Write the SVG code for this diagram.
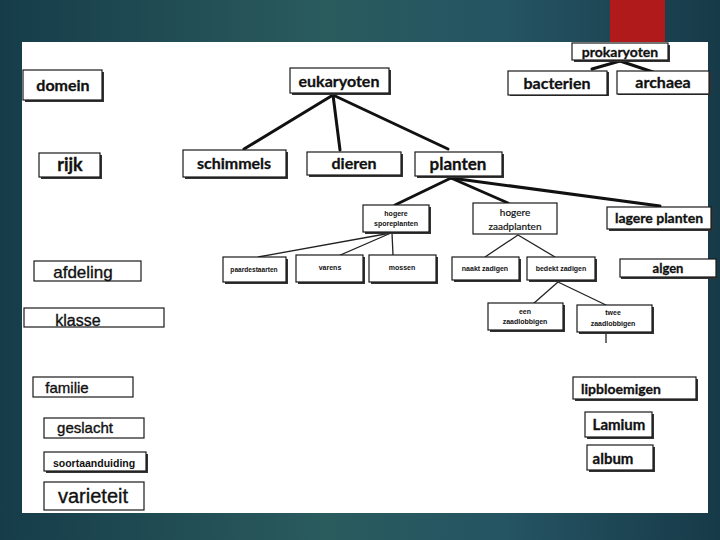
<svg xmlns="http://www.w3.org/2000/svg" width="720" height="540" viewBox="0 0 720 540">
<defs>
<linearGradient id="bg" x1="0" y1="0" x2="1" y2="0">
<stop offset="0" stop-color="#163c4a"/>
<stop offset="0.45" stop-color="#2a5b5d"/>
<stop offset="0.7" stop-color="#255463"/>
<stop offset="1" stop-color="#173a48"/>
</linearGradient>
<style>
.b{fill:#fff;stroke:#1a1a1a;stroke-width:1.2}
.s{fill:#333}
.c{font-family:Lato,"Open Sans",sans-serif;font-weight:bold;fill:#111;stroke:#111;stroke-width:0.3;text-anchor:middle}
.a{font-family:"Liberation Sans",Arial,sans-serif;fill:#111;stroke:#111;stroke-width:0.35;text-anchor:middle}
.ab{font-family:"Liberation Sans",Arial,sans-serif;font-weight:bold;fill:#111;text-anchor:middle}
.l{stroke:#111;stroke-width:3;fill:none;stroke-linecap:round}
.t{stroke:#222;stroke-width:1.3;fill:none}
</style>
</defs>
<rect width="720" height="540" fill="url(#bg)"/>
<rect x="610" y="0" width="55" height="42" fill="#b01a1a"/>
<rect x="22" y="42" width="686" height="471" fill="#fff"/>

<g id="connectors">
<line class="l" x1="620" y1="61" x2="592" y2="69"/>
<line class="l" x1="620" y1="61" x2="653" y2="72"/>
<line class="l" x1="333" y1="95" x2="244" y2="149"/>
<line class="l" x1="333" y1="95" x2="340" y2="150"/>
<line class="l" x1="333" y1="95" x2="448" y2="149"/>
<line class="l" x1="451" y1="178" x2="395" y2="205"/>
<line class="l" x1="451" y1="178" x2="508" y2="203"/>
<line class="l" x1="451" y1="178" x2="660" y2="206"/>
<line class="t" x1="391" y1="233" x2="258" y2="257"/>
<line class="t" x1="391" y1="233" x2="338" y2="256"/>
<line class="t" x1="392" y1="233" x2="393" y2="255"/>
<line class="t" x1="518" y1="235" x2="485" y2="257"/>
<line class="t" x1="518" y1="235" x2="555" y2="257"/>
<line class="t" x1="558" y1="282" x2="533" y2="304"/>
<line class="t" x1="558" y1="282" x2="608" y2="306"/>
<line class="t" x1="606" y1="333" x2="606" y2="343"/>
</g>

<g id="prokaryoten"><rect class="s" x="574" y="45" width="96" height="17"/><rect class="b" x="572" y="43" width="96" height="17"/><text class="c" x="620" y="57" font-size="14">prokaryoten</text></g>
<g id="bacterien"><rect class="s" x="510" y="72" width="99" height="24"/><rect class="b" x="508" y="71" width="99" height="24"/><text class="c" x="557" y="89" font-size="16">bacterien</text></g>
<g id="archaea"><rect class="s" x="618" y="72" width="93" height="23"/><rect class="b" x="617" y="71" width="92" height="23"/><text class="c" x="663" y="88" font-size="16">archaea</text></g>
<g id="eukaryoten"><rect class="s" x="292" y="70" width="99" height="25"/><rect class="b" x="290" y="68" width="99" height="25"/><text class="c" x="339" y="87" font-size="16">eukaryoten</text></g>
<g id="domein"><rect class="s" x="25" y="72" width="79" height="30"/><rect class="b" x="23" y="70" width="79" height="30"/><text class="c" x="63" y="91" font-size="16">domein</text></g>
<g id="rijk"><rect class="s" x="41" y="155" width="61" height="24"/><rect class="b" x="39" y="153" width="61" height="24"/><text class="c" x="70" y="171" font-size="18">rijk</text></g>
<g id="schimmels"><rect class="s" x="185" y="152" width="103" height="27"/><rect class="b" x="183" y="150" width="103" height="27"/><text class="c" x="234" y="169" font-size="16">schimmels</text></g>
<g id="dieren"><rect class="s" x="309" y="154" width="94" height="23"/><rect class="b" x="307" y="152" width="94" height="23"/><text class="c" x="354" y="169" font-size="16">dieren</text></g>
<g id="planten"><rect class="s" x="417" y="154" width="87" height="24"/><rect class="b" x="415" y="152" width="87" height="24"/><text class="c" x="458" y="170" font-size="17">planten</text></g>

<g id="hogere-sporeplanten"><rect class="s" x="365" y="207" width="66" height="27"/><rect class="b" x="363" y="205" width="66" height="27"/><text class="ab" x="396" y="216" font-size="7">hogere</text><text class="ab" x="396" y="226" font-size="7">sporeplanten</text></g>
<g id="hogere-zaadplanten"><rect class="b" x="473" y="203" width="84" height="31" stroke-width="1"/><text class="c" x="515" y="216" font-size="10" style="font-weight:normal;stroke-width:0.2">hogere</text><text class="c" x="515" y="230" font-size="10" style="font-weight:normal;stroke-width:0.2">zaadplanten</text></g>
<g id="lagere-planten"><rect class="s" x="609" y="209" width="104" height="22"/><rect class="b" x="607" y="207" width="104" height="22"/><text class="c" x="659" y="223" font-size="14">lagere planten</text></g>

<g id="paardestaarten"><rect class="s" x="225" y="259" width="63" height="25"/><rect class="b" x="223" y="257" width="63" height="25"/><text class="ab" x="254" y="272" font-size="6.6">paardestaarten</text></g>
<g id="varens"><rect class="s" x="298" y="257" width="67" height="27"/><rect class="b" x="296" y="255" width="67" height="27"/><text class="ab" x="330" y="270" font-size="7">varens</text></g>
<g id="mossen"><rect class="s" x="371" y="257" width="67" height="27"/><rect class="b" x="369" y="255" width="67" height="27"/><text class="ab" x="402" y="270" font-size="7">mossen</text></g>
<g id="naakt-zadigen"><rect class="s" x="454" y="259" width="67" height="23"/><rect class="b" x="452" y="257" width="67" height="23"/><text class="ab" x="485" y="271" font-size="7">naakt zadigen</text></g>
<g id="bedekt-zadigen"><rect class="s" x="529" y="259" width="68" height="23"/><rect class="b" x="527" y="257" width="68" height="23"/><text class="ab" x="561" y="271" font-size="7">bedekt zadigen</text></g>
<g id="algen"><rect class="s" x="621" y="261" width="96" height="18"/><rect class="b" x="620" y="259" width="96" height="18"/><text class="c" x="668" y="273" font-size="13">algen</text></g>
<g id="een-zaadlobbigen"><rect class="s" x="490" y="305" width="75" height="27"/><rect class="b" x="488" y="303" width="75" height="27"/><text class="ab" x="525" y="314" font-size="7">een</text><text class="ab" x="525" y="324" font-size="7">zaadlobbigen</text></g>
<g id="twee-zaadlobbigen"><rect class="s" x="579" y="307" width="75" height="27"/><rect class="b" x="577" y="305" width="75" height="27"/><text class="ab" x="613" y="315" font-size="7">twee</text><text class="ab" x="613" y="326" font-size="7">zaadlobbigen</text></g>

<g id="afdeling"><rect class="b" x="34" y="261" width="107" height="20" stroke-width="1.6"/><text class="a" x="83" y="278" font-size="17">afdeling</text></g>
<g id="klasse"><rect class="b" x="24" y="308" width="140" height="19" stroke-width="1.4"/><text class="a" x="78" y="326" font-size="16">klasse</text></g>
<g id="familie"><rect class="b" x="33" y="377" width="100" height="20" stroke-width="1.6"/><text class="a" x="67" y="393" font-size="15">familie</text></g>
<g id="geslacht"><rect class="b" x="44" y="418" width="100" height="20" stroke-width="1.6"/><text class="a" x="85" y="433" font-size="15">geslacht</text></g>
<g id="soortaanduiding"><rect class="s" x="46" y="454" width="102" height="19"/><rect class="b" x="44" y="452" width="102" height="19" fill="#f6fbf6"/><text class="ab" x="94" y="467" font-size="10.5">soortaanduiding</text></g>
<g id="varieteit"><rect class="b" x="44" y="482" width="100" height="28" stroke-width="1.6"/><text class="a" x="93" y="503" font-size="20">varieteit</text></g>

<g id="lipbloemigen"><rect class="s" x="575" y="379" width="123" height="22"/><rect class="b" x="573" y="377" width="123" height="22"/><text class="c" x="621" y="394" font-size="14">lipbloemigen</text></g>
<g id="Lamium"><rect class="s" x="587" y="414" width="67" height="25"/><rect class="b" x="585" y="412" width="67" height="25"/><text class="c" x="619" y="430" font-size="15">Lamium</text></g>
<g id="album"><rect class="s" x="589" y="447" width="66" height="25"/><rect class="b" x="587" y="445" width="66" height="25"/><text class="c" x="613" y="464" font-size="15">album</text></g>
</svg>
